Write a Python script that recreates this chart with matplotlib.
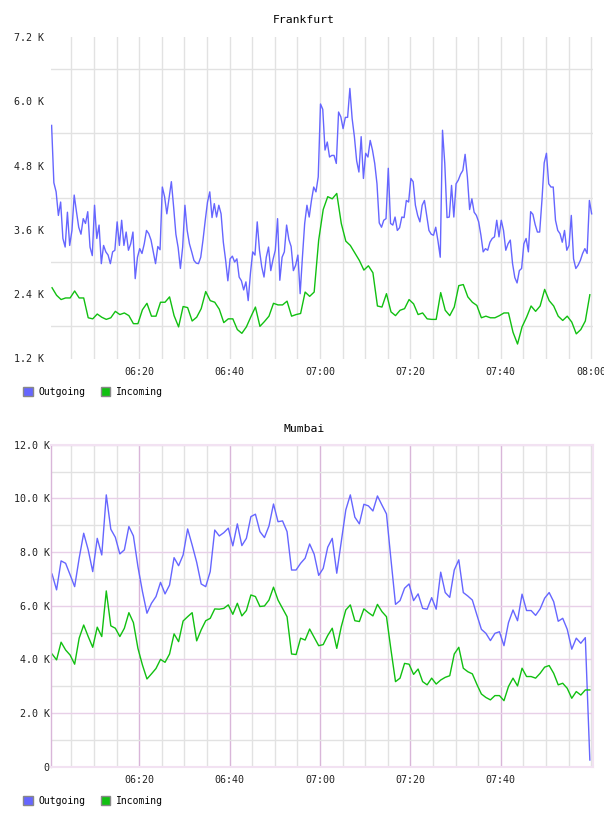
import numpy as np
import matplotlib.pyplot as plt
from matplotlib.patches import Patch, Rectangle

plt.rcParams['font.family'] = ['DejaVu Sans Mono', 'DejaVu Sans']

# Frankfurt, outgoing every 30 s, incoming every minute (values in K)
fra_out = [5.55, 4.48, 4.31, 3.87, 4.12, 3.44, 3.28, 3.93, 3.31, 3.59,
           4.25, 3.94, 3.65, 3.52, 3.81, 3.72, 3.94, 3.28, 3.12, 4.06,
           3.44, 3.69, 2.97, 3.31, 3.19, 3.13, 2.97, 3.19, 3.22, 3.75,
           3.31, 3.78, 3.31, 3.56, 3.22, 3.34, 3.56, 2.69, 3.09, 3.25,
           3.16, 3.34, 3.59, 3.53, 3.41, 3.19, 2.97, 3.29, 3.23, 4.40,
           4.22, 3.90, 4.20, 4.50, 4.03, 3.52, 3.27, 2.88, 3.28, 4.06,
           3.59, 3.34, 3.19, 3.03, 2.98, 2.97, 3.09, 3.41, 3.78, 4.12,
           4.31, 3.83, 4.09, 3.84, 4.06, 3.90, 3.37, 3.04, 2.65, 3.06,
           3.11, 3.00, 3.06, 2.72, 2.65, 2.48, 2.63, 2.28, 2.79, 3.19,
           3.13, 3.75, 3.22, 2.91, 2.72, 3.09, 3.28, 2.84, 3.05, 3.22,
           3.81, 2.66, 3.09, 3.19, 3.69, 3.42, 3.29, 2.84, 2.94, 3.13,
           2.41, 3.09, 3.72, 4.06, 3.84, 4.15, 4.40, 4.31, 4.59, 5.95,
           5.85, 5.09, 5.24, 4.96, 4.99, 4.99, 4.84, 5.80, 5.71, 5.49,
           5.70, 5.70, 6.24, 5.68, 5.34, 4.89, 4.68, 5.34, 4.56, 5.03,
           4.96, 5.27, 5.09, 4.84, 4.46, 3.73, 3.65, 3.78, 3.81, 4.75,
           3.72, 3.69, 3.84, 3.59, 3.64, 3.84, 3.83, 4.15, 4.12, 4.56,
           4.50, 4.06, 3.87, 3.75, 4.06, 4.15, 3.87, 3.59, 3.52, 3.50,
           3.65, 3.39, 3.09, 5.46, 4.84, 3.83, 3.84, 4.43, 3.84, 4.46,
           4.53, 4.64, 4.71, 5.01, 4.59, 3.98, 4.18, 3.93, 3.87, 3.75,
           3.50, 3.19, 3.25, 3.22, 3.37, 3.44, 3.47, 3.78, 3.47, 3.78,
           3.59, 3.22, 3.34, 3.41, 2.97, 2.71, 2.61, 2.84, 2.88, 3.34,
           3.44, 3.19, 3.94, 3.89, 3.70, 3.56, 3.56, 4.15, 4.85, 5.03,
           4.46, 4.40, 4.40, 3.78, 3.59, 3.53, 3.37, 3.59, 3.22, 3.31,
           3.87, 3.06, 2.88, 2.94, 3.03, 3.16, 3.25, 3.16, 4.15, 3.90]

fra_in = [2.52, 2.38, 2.30, 2.33, 2.33, 2.46, 2.33, 2.33, 1.96, 1.94,
          2.03, 1.97, 1.93, 1.96, 2.08, 2.02, 2.05, 2.00, 1.85, 1.85,
          2.11, 2.23, 1.99, 1.99, 2.25, 2.25, 2.35, 2.00, 1.79, 2.17,
          2.15, 1.90, 1.97, 2.13, 2.45, 2.28, 2.25, 2.12, 1.87, 1.94,
          1.94, 1.74, 1.67, 1.79, 1.98, 2.16, 1.80, 1.89, 1.99, 2.23,
          2.20, 2.20, 2.27, 1.99, 2.02, 2.04, 2.44, 2.36, 2.44, 3.41,
          3.98, 4.22, 4.18, 4.28, 3.72, 3.39, 3.31, 3.17, 3.03, 2.85,
          2.93, 2.80, 2.18, 2.16, 2.41, 2.07, 2.00, 2.10, 2.13, 2.30,
          2.22, 2.02, 2.05, 1.94, 1.93, 1.93, 2.43, 2.10, 2.00, 2.16,
          2.56, 2.58, 2.35, 2.25, 2.19, 1.96, 1.99, 1.96, 1.96, 2.00,
          2.05, 2.05, 1.69, 1.47, 1.79, 1.97, 2.18, 2.08, 2.18, 2.49,
          2.28, 2.18, 1.99, 1.91, 1.99, 1.88, 1.66, 1.74, 1.90, 2.39]

# Mumbai, both every minute (values in K)
mum_out = [7.18, 6.59, 7.67, 7.58, 7.15, 6.71, 7.77, 8.70, 8.08, 7.27,
           8.51, 7.89, 10.13, 8.85, 8.55, 7.93, 8.08, 8.95, 8.60, 7.46,
           6.53, 5.72, 6.09, 6.34, 6.87, 6.44, 6.77, 7.79, 7.49, 7.89,
           8.86, 8.26, 7.62, 6.81, 6.71, 7.27, 8.82, 8.60, 8.72, 8.89,
           8.23, 9.05, 8.24, 8.51, 9.32, 9.41, 8.76, 8.54, 8.97, 9.79,
           9.13, 9.16, 8.76, 7.33, 7.33, 7.58, 7.77, 8.30, 7.92, 7.13,
           7.39, 8.18, 8.51, 7.21, 8.39, 9.57, 10.13, 9.30, 9.05, 9.78,
           9.72, 9.53, 10.09, 9.75, 9.42, 7.71, 6.05, 6.19, 6.65, 6.81,
           6.19, 6.44, 5.90, 5.87, 6.30, 5.87, 7.25, 6.49, 6.31, 7.33,
           7.71, 6.49, 6.36, 6.21, 5.66, 5.12, 4.97, 4.70, 4.97, 5.03,
           4.51, 5.37, 5.84, 5.44, 6.43, 5.82, 5.82, 5.64, 5.88, 6.28,
           6.49, 6.15, 5.42, 5.53, 5.12, 4.38, 4.79, 4.60, 4.81, 0.25]

mum_in = [4.20, 3.98, 4.64, 4.35, 4.16, 3.82, 4.79, 5.28, 4.85, 4.45,
          5.20, 4.85, 6.55, 5.25, 5.16, 4.85, 5.16, 5.74, 5.37, 4.41,
          3.79, 3.27, 3.46, 3.66, 4.00, 3.89, 4.20, 4.95, 4.66, 5.43,
          5.59, 5.74, 4.69, 5.10, 5.44, 5.53, 5.88, 5.87, 5.90, 6.03,
          5.68, 6.09, 5.62, 5.82, 6.40, 6.34, 5.97, 5.99, 6.21, 6.69,
          6.21, 5.90, 5.59, 4.20, 4.18, 4.79, 4.72, 5.13, 4.82, 4.51,
          4.55, 4.89, 5.16, 4.41, 5.22, 5.84, 6.03, 5.44, 5.41, 5.88,
          5.74, 5.62, 6.05, 5.78, 5.59, 4.35, 3.17, 3.30, 3.85, 3.82,
          3.44, 3.64, 3.17, 3.05, 3.30, 3.08, 3.23, 3.33, 3.39, 4.20,
          4.45, 3.67, 3.54, 3.46, 3.07, 2.71, 2.58, 2.49, 2.65, 2.65,
          2.46, 2.99, 3.30, 3.01, 3.67, 3.36, 3.36, 3.30, 3.48, 3.71,
          3.77, 3.48, 3.05, 3.11, 2.92, 2.55, 2.80, 2.67, 2.86, 2.86]

# minutes after 06:00
fra_out_t = 0.6 + 0.5 * np.arange(len(fra_out))
fra_in_t = 0.7 + np.arange(len(fra_in))
mum_t = 0.7 + np.arange(len(mum_out))

OUT_COL = '#6666ff'
IN_COL = '#11c011'
GRAY = '#e2e2e2'
PINK_V = '#d9b6d9'
PINK_H = '#e8d0e8'
FRAME = '#f2e2f2'

W, H = 608, 816
fig = plt.figure(figsize=(W / 100, H / 100), dpi=100)


def hhmm(m):
    m = int(round(m)) + 360
    return '%02d:%02d' % (m // 60, m % 60)


def box(top, bottom):
    return [50.7 / W, 1 - bottom / H, 542.3 / W, (bottom - top) / H]


def legend(y):
    hs = [Patch(facecolor=OUT_COL, edgecolor='#888888', label='Outgoing'),
          Patch(facecolor=IN_COL, edgecolor='#888888', label='Incoming')]
    fig.legend(handles=hs, loc='center left', bbox_to_anchor=(23 / W, 1 - y / H),
               ncol=2, frameon=False, fontsize=7, handlelength=1.0, handleheight=1.0,
               handletextpad=0.55, columnspacing=1.6, borderpad=0, borderaxespad=0)


# Frankfurt
ax1 = fig.add_axes(box(37, 358.5))
ax1.plot(fra_out_t, fra_out, color=OUT_COL, lw=1.0)
ax1.plot(fra_in_t, fra_in, color=IN_COL, lw=1.0)
ax1.set_xlim(0.4, 120.4)
ax1.set_ylim(1.2, 7.2)
yt = [1.2, 2.4, 3.6, 4.8, 6.0, 7.2]
ax1.set_yticks(yt)
ax1.set_yticklabels(['%.1f K' % v for v in yt])
ax1.set_yticks([1.8, 3.0, 4.2, 5.4, 6.6], minor=True)
xt = [20, 40, 60, 80, 100, 120]
ax1.set_xticks(xt)
ax1.set_xticklabels([hhmm(v) for v in xt])
ax1.set_xticks(list(range(5, 121, 5)), minor=True)
ax1.xaxis.grid(True, which='both', color=GRAY, lw=1)
ax1.yaxis.grid(True, which='minor', color=GRAY, lw=1)
ax1.set_axisbelow(True)
for s in ax1.spines.values():
    s.set_visible(False)
ax1.tick_params(which='both', length=0, labelsize=7.2, colors='#222222')
ax1.tick_params(axis='y', pad=4.8)
ax1.tick_params(axis='x', pad=6)
# the last time label is cut at the canvas edge
clip = Rectangle((0, 0), 604 / W, 1, transform=fig.transFigure)
for lab in ax1.get_xticklabels():
    lab.set_clip_path(clip)
fig.text(0.5, 1 - 20 / H, 'Frankfurt', ha='center', va='center', fontsize=8.2)
legend(392)

# Mumbai
ax2 = fig.add_axes(box(444.7, 766.7))
ax2.plot(mum_t, mum_out, color=OUT_COL, lw=1.0)
ax2.plot(mum_t, mum_in, color=IN_COL, lw=1.0)
ax2.set_xlim(0.4, 120.4)
ax2.set_ylim(0, 12)
yt2 = [0, 2, 4, 6, 8, 10, 12]
ax2.set_yticks(yt2)
ax2.set_yticklabels(['0' if v == 0 else '%.1f K' % v for v in yt2])
ax2.set_yticks([1, 3, 5, 7, 9, 11], minor=True)
xt2 = [20, 40, 60, 80, 100]
ax2.set_xticks(xt2)
ax2.set_xticklabels([hhmm(v) for v in xt2])
ax2.set_xticks(list(range(5, 121, 5)), minor=True)
ax2.xaxis.grid(True, which='major', color=PINK_V, lw=1)
ax2.yaxis.grid(True, which='major', color=PINK_H, lw=1)
ax2.grid(True, which='minor', color=GRAY, lw=1)
ax2.set_axisbelow(True)
for s in ax2.spines.values():
    s.set_color(FRAME)
    s.set_linewidth(1.5)
ax2.spines['left'].set_color(PINK_V)
ax2.spines['left'].set_linewidth(1.0)
ax2.tick_params(which='both', length=0, labelsize=7.2, colors='#222222')
ax2.tick_params(axis='y', pad=0.8)
ax2.tick_params(axis='x', pad=6)
fig.text(0.5, 1 - 429 / H, 'Mumbai', ha='center', va='center', fontsize=8.2)
legend(800.5)

fig.savefig('out.png', dpi=100)
